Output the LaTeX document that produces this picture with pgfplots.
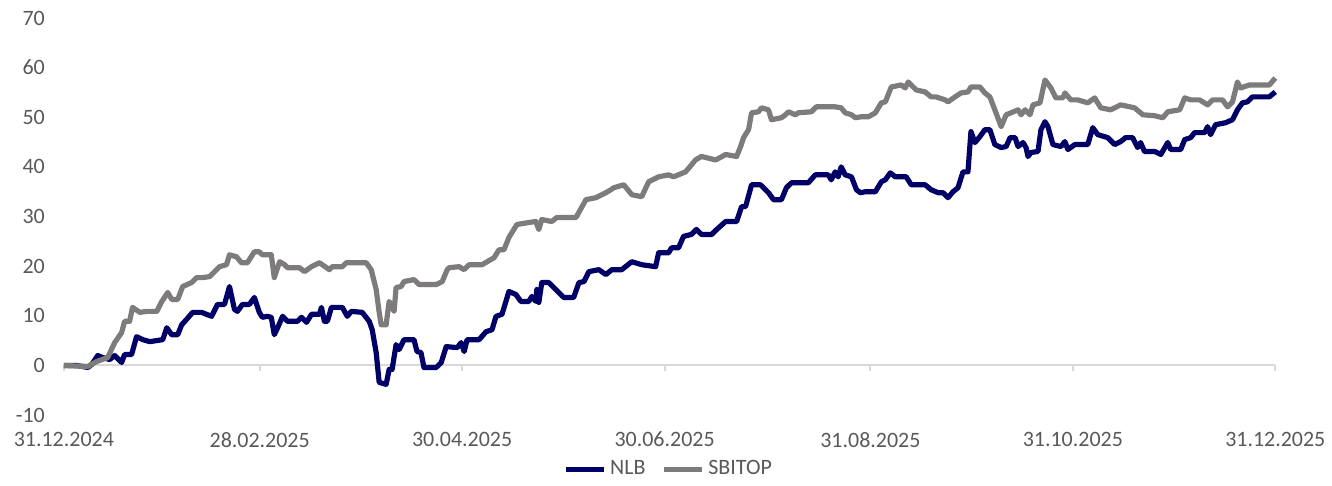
\documentclass[border=0pt]{standalone}
\usepackage{pgfplots}
\pgfplotsset{compat=1.18}
\usepackage{fontspec}
\setmainfont{Carlito}
\definecolor{nlbblue}{RGB}{0,0,102}
\definecolor{sbigray}{RGB}{125,123,123}
\definecolor{txtgray}{RGB}{89,89,89}
\definecolor{zeroline}{RGB}{217,217,217}
\begin{document}
\begin{tikzpicture}
\begin{axis}[
  scale only axis,
  width=607pt, height=199pt,
  xmin=0, xmax=365, ymin=-10, ymax=70,
  ytick distance=10,
  xtick={0,59,120,181,243,304,365},
  xticklabels={31.12.2024,28.02.2025,30.04.2025,30.06.2025,31.08.2025,31.10.2025,31.12.2025},
  axis line style={draw=none},
  major tick length=0pt,
  tick label style={font=\fontsize{11}{13}\selectfont, text=txtgray},
  yticklabel style={xshift=-6pt},
  xticklabel style={yshift=-5pt},
  /pgf/number format/assume math mode=true,
  clip=false,
  legend columns=2,
  legend style={draw=none, at={(axis description cs:0.5,0)}, anchor=center, yshift=-27pt,
    font=\fontsize{11}{13}\selectfont, text=txtgray,
    /tikz/every even column/.append style={column sep=6pt}},
  legend image code/.code={\draw[#1, line width=2.5pt] (0pt,0pt) -- (19pt,0pt);},
]
\draw[zeroline, line width=1pt] (axis cs:0,0) -- (axis cs:365,0);
\pgfplotsinvokeforeach{0,59,120,181,243,304,365}{
  \draw[zeroline, line width=1pt] (axis cs:#1,0) -- ++(0pt,-3pt);
}
\addplot[nlbblue, line width=2.6pt, line join=round] table {
x y
0 0
3.9 0
7.2 -0.4
8.4 0.2
10.2 2.0
11.7 1.6
13.8 1.2
15.3 2.0
17.4 0.6
18.3 2.2
20.4 2.2
21.9 5.8
23.8 5.2
25.9 4.8
29.8 5.2
31.0 7.6
32.5 6.2
34.3 6.2
35.5 8.2
37.0 9.3
38.8 10.7
41.5 10.7
43.0 10.3
44.5 9.9
46.3 12.3
48.4 12.3
49.9 15.9
51.4 11.3
52.3 10.9
53.8 12.3
55.9 12.3
57.4 13.7
58.9 10.7
59.8 9.7
61.3 9.9
62.5 9.7
63.4 6.2
64.4 7.6
65.9 9.9
67.4 8.9
70.4 8.9
71.6 9.7
73.1 8.7
74.6 10.3
77.0 10.3
77.6 11.7
78.5 8.9
79.4 8.9
80.6 11.7
83.9 11.7
85.4 9.9
86.6 10.9
89.9 10.7
92.0 8.9
92.9 7.2
94.1 2.6
95.0 -3.4
97.1 -3.8
98.0 -0.8
98.9 -0.8
100.1 4.2
101.0 3.2
102.5 5.2
105.5 5.2
106.4 2.8
107.6 2.6
108.5 -0.4
112.2 -0.4
113.7 0.6
115.2 3.8
118.5 3.6
119.7 4.6
120.6 2.8
121.5 5.2
125.1 5.2
127.2 6.8
129.0 7.2
130.2 9.9
132.0 10.3
134.1 14.9
136.2 14.3
137.7 12.9
140.1 12.9
141.0 13.9
142.2 12.9
142.5 15.3
143.1 12.7
144.0 16.7
146.1 16.7
147.6 15.7
150.6 13.7
153.6 13.7
155.2 16.7
156.7 16.9
158.2 18.9
161.2 19.3
163.3 18.3
165.1 19.3
168.1 19.3
171.1 20.9
174.1 20.3
178.3 19.9
179.2 22.7
182.2 22.7
183.1 23.7
185.2 23.7
186.7 26.0
189.1 26.4
190.6 27.4
192.1 26.4
195.2 26.4
196.7 27.4
199.4 29.0
202.7 29.0
204.2 32.0
205.4 32.0
207.2 36.4
209.9 36.4
210.8 35.8
212.3 34.8
213.8 33.4
216.2 33.4
217.7 35.8
219.2 36.8
224.3 36.8
226.4 38.4
230.3 38.4
231.2 37.4
232.4 39.0
233.3 38.0
234.2 40.0
235.4 38.4
237.3 38.0
238.8 35.4
240.0 34.8
241.5 35.0
244.5 35.0
246.3 37.0
247.5 37.4
249.0 38.8
250.5 38.0
253.8 38.0
255.3 36.4
259.5 36.4
261.3 35.4
263.4 34.8
264.9 34.8
266.4 33.8
267.9 35.0
269.4 35.8
270.9 39.0
272.4 39.0
273.3 47.1
274.5 44.9
276.0 46.1
277.5 47.5
279.0 47.5
280.5 44.5
282.4 43.9
283.9 44.1
285.1 45.9
286.6 45.9
287.5 44.1
289.0 44.9
289.9 43.9
290.5 42.1
291.4 42.9
293.5 43.1
294.4 47.5
295.6 49.1
296.5 48.1
298.0 44.5
300.4 44.1
301.6 45.1
302.5 43.5
304.6 44.5
308.5 44.5
310.0 47.9
311.5 46.5
314.5 45.9
316.6 44.5
318.4 45.1
319.9 45.9
322.0 45.9
323.5 43.9
324.4 44.9
325.6 43.1
328.7 43.1
330.5 42.5
332.6 44.9
333.5 43.5
336.5 43.5
337.7 45.5
339.5 45.9
340.7 46.9
343.7 46.9
344.6 48.1
345.5 46.5
347.0 48.5
350.0 48.9
352.1 49.5
353.6 51.5
355.1 52.9
356.6 53.1
358.1 54.1
363.2 54.1
365 55.1
};
\addlegendentry{NLB}
\addplot[sbigray, line width=2.6pt, line join=round] table {
x y
0 0
7.2 -0.2
9.9 0.8
13.2 1.6
15.3 4.6
17.4 6.6
18.3 8.9
19.8 8.9
20.7 11.7
22.9 10.7
25.0 10.9
28.0 10.9
29.5 12.9
31.3 14.7
32.5 13.3
34.3 13.3
35.8 15.9
38.5 16.7
40.0 17.7
41.8 17.7
43.9 17.9
45.4 18.9
46.9 19.9
49.0 20.3
49.9 22.3
52.0 21.9
53.5 20.7
55.3 20.7
57.4 22.9
58.9 22.9
59.8 22.3
62.5 22.3
63.4 17.7
65.0 20.9
66.5 20.3
67.4 19.7
71.0 19.7
72.5 18.9
74.6 19.9
77.0 20.7
80.0 19.3
80.9 19.9
83.9 19.9
85.1 20.7
91.1 20.7
92.6 19.3
94.1 15.3
95.0 10.7
95.6 8.2
97.1 8.2
98.0 12.9
99.5 10.9
100.1 15.7
101.6 15.9
102.5 16.9
105.5 17.3
107.0 16.3
112.2 16.3
114.0 16.9
115.5 19.3
116.1 19.7
119.1 19.9
120.6 19.3
122.1 20.3
126.0 20.3
129.6 21.7
131.1 23.3
132.6 23.3
134.1 25.8
136.5 28.4
140.1 28.8
142.2 29.0
143.1 27.4
144.0 29.4
147.0 29.0
148.5 29.8
154.3 29.8
157.3 33.4
160.3 33.8
163.3 34.8
164.8 35.4
165.7 35.8
168.7 36.4
171.1 34.4
174.1 34.0
176.2 37.0
179.2 38.0
182.2 38.4
183.7 38.0
187.3 39.0
189.1 40.4
190.3 41.4
192.1 42.1
196.4 41.4
199.4 42.5
202.7 42.1
203.9 44.1
204.8 45.9
206.3 47.5
207.2 50.9
209.3 51.1
210.2 51.9
212.3 51.5
213.2 49.5
216.2 49.9
217.4 50.5
218.3 51.1
220.4 50.5
221.3 50.9
225.2 51.1
226.7 52.1
232.4 52.1
234.2 51.9
235.4 50.9
237.3 50.5
238.5 49.9
240.3 50.1
242.4 50.1
244.5 50.9
246.3 52.9
247.5 53.1
249.3 56.1
252.3 56.5
253.5 55.9
254.4 57.1
256.8 55.5
259.5 55.1
261.3 54.1
262.8 54.1
265.5 53.5
266.4 53.1
268.5 54.1
270.3 54.9
272.4 55.1
273.3 56.1
276.0 56.1
277.5 54.9
279.0 54.1
280.5 51.5
282.4 48.1
283.9 50.5
285.4 50.9
287.5 51.5
288.4 50.5
289.6 51.5
291.1 50.5
292.0 52.5
294.1 52.9
295.6 57.5
297.4 55.9
298.9 53.9
301.0 53.9
301.6 54.9
303.4 53.5
305.5 53.5
308.5 52.9
310.6 53.9
312.4 51.9
315.4 51.5
318.4 52.5
322.6 51.9
325.1 50.5
328.7 50.3
331.1 49.9
332.6 51.1
336.2 51.5
337.7 53.9
339.5 53.5
342.2 53.5
344.6 52.5
346.1 53.5
349.1 53.5
350.6 52.1
352.1 53.1
353.6 57.1
354.5 55.9
357.2 56.5
363.2 56.5
365 57.9
};
\addlegendentry{SBITOP}
\end{axis}
\path (current axis.south west) ++(-32pt,-30.5pt) coordinate (bbsw);
\path (current axis.north east) ++(27pt,9pt) coordinate (bbne);
\useasboundingbox (bbsw) rectangle (bbne);
\end{tikzpicture}
\end{document}
